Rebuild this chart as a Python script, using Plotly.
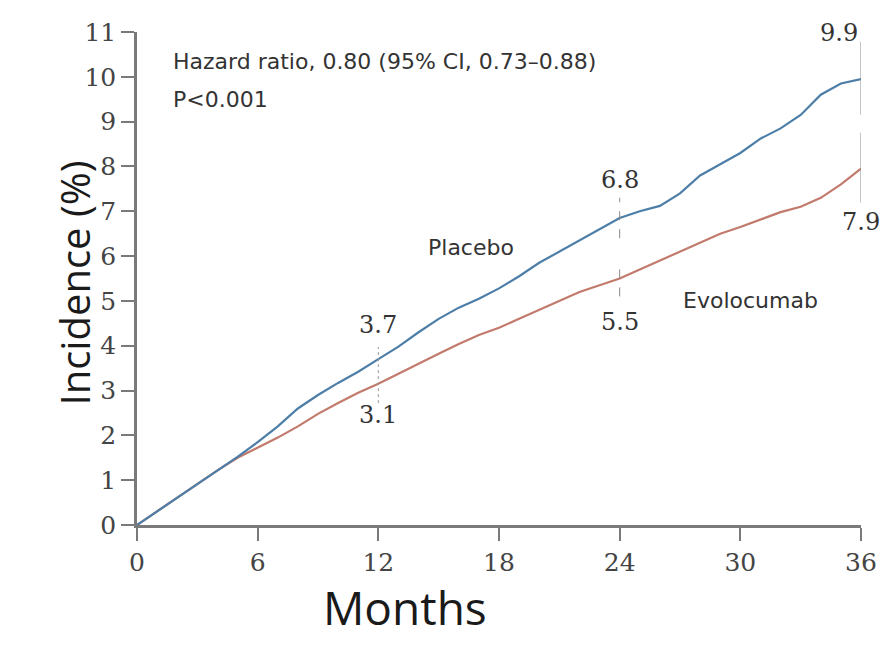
import plotly.graph_objects as go

months = list(range(0, 37))
placebo = [0, 0.3, 0.6, 0.92, 1.22, 1.52, 1.85, 2.2, 2.6, 2.9, 3.17, 3.42, 3.7,
           3.98, 4.3, 4.6, 4.85, 5.05, 5.28, 5.55, 5.85, 6.1, 6.35, 6.6, 6.85,
           7.0, 7.12, 7.4, 7.8, 8.05, 8.3, 8.62, 8.85, 9.15, 9.6, 9.85, 9.95]
evolocumab = [0, 0.3, 0.6, 0.92, 1.22, 1.5, 1.72, 1.95, 2.2, 2.48, 2.72, 2.95, 3.15,
              3.38, 3.6, 3.82, 4.04, 4.24, 4.4, 4.6, 4.8, 5.0, 5.2, 5.35, 5.5,
              5.7, 5.9, 6.1, 6.3, 6.5, 6.65, 6.82, 6.98, 7.1, 7.3, 7.6, 7.95]
x_ticks = [0, 6, 12, 18, 24, 30, 36]
y_ticks = list(range(0, 12))
milestones = [12, 24, 36]
placebo_labels = ["3.7", "6.8", "9.9"]
evolocumab_labels = ["3.1", "5.5", "7.9"]

BLUE = "#4d7ea8"
RED = "#c27a6c"
AXIS = "#7a7a7a"
TEXT = "#333333"

fig = go.Figure()
fig.add_trace(go.Scatter(x=months, y=evolocumab, mode="lines", name="Evolocumab",
                         line=dict(color=RED, width=2.2)))
fig.add_trace(go.Scatter(x=months, y=placebo, mode="lines", name="Placebo",
                         line=dict(color=BLUE, width=2.2)))

shapes = []
shapes.append(dict(type="line", xref="x", yref="y", x0=12, x1=12, y0=2.72, y1=3.97,
                   line=dict(color="#9a9a9a", width=1, dash="dot")))
shapes.append(dict(type="line", xref="x", yref="y", x0=24, x1=24, y0=6.4, y1=7.3,
                   line=dict(color="#8a8a8a", width=1, dash="dash")))
shapes.append(dict(type="line", xref="x", yref="y", x0=24, x1=24, y0=5.1, y1=5.9,
                   line=dict(color="#8a8a8a", width=1, dash="dash")))
shapes.append(dict(type="line", xref="x", yref="y", x0=36, x1=36, y0=9.15, y1=10.78,
                   line=dict(color="#8a8a8a", width=1)))
shapes.append(dict(type="line", xref="x", yref="y", x0=36, x1=36, y0=7.19, y1=8.75,
                   line=dict(color="#8a8a8a", width=1)))
shapes.append(dict(type="line", xref="x", yref="y", x0=-0.7, x1=0, y0=0, y1=0,
                   line=dict(color=AXIS, width=2.5)))
fig.update_layout(shapes=shapes)

ann_font = dict(family="DejaVu Sans", size=22, color=TEXT)
num_font = dict(family="DejaVu Serif", size=24, color=TEXT)
annotations = []
placebo_label_y = [4.46, 7.7, None]
evo_label_y = [2.46, 4.53, 6.76]
for m, lab, yy in zip(milestones, placebo_labels, placebo_label_y):
    if yy is None:
        annotations.append(dict(x=0.9986, y=1.03, xref="paper", yref="paper", text=lab,
                                showarrow=False, font=num_font))
    else:
        annotations.append(dict(x=m, y=yy, xref="x", yref="y", text=lab,
                                showarrow=False, font=num_font))
for m, lab, yy in zip(milestones, evolocumab_labels, evo_label_y):
    annotations.append(dict(x=m, y=yy, xref="x", yref="y", text=lab, showarrow=False,
                            font=num_font))
annotations.append(dict(x=16.6, y=6.2, xref="x", yref="y", text="Placebo",
                        showarrow=False, font=ann_font))
annotations.append(dict(x=30.5, y=5.02, xref="x", yref="y", text="Evolocumab",
                        showarrow=False, font=ann_font))
annotations.append(dict(x=1.7, y=10.35, xref="x", yref="y", xanchor="left",
                        text="Hazard ratio, 0.80 (95% CI, 0.73\u20130.88)",
                        showarrow=False, font=ann_font))
annotations.append(dict(x=1.7, y=9.5, xref="x", yref="y", xanchor="left",
                        text="P<0.001", showarrow=False, font=ann_font))
annotations.append(dict(x=0.37, y=-0.233, xref="paper", yref="paper", text="Months",
                        showarrow=False,
                        font=dict(family="Open Sans", size=46, color="#1a1a1a")))
annotations.append(dict(x=-0.127, y=0.491, xref="paper", yref="paper",
                        text="Incidence (%)", textangle=-90, showarrow=False,
                        font=dict(family="Open Sans", size=40, color="#1a1a1a")))
fig.update_layout(annotations=annotations)

tick_font = dict(family="DejaVu Serif", size=25, color="#444444")
fig.update_xaxes(range=[0, 36], tickvals=x_ticks, ticktext=[str(v) for v in x_ticks],
                 showline=True, linecolor=AXIS, linewidth=2.5, ticks="outside",
                 ticklen=13, tickwidth=2, tickcolor=AXIS, showgrid=False,
                 zeroline=False, tickfont=tick_font)
fig.update_yaxes(range=[0, 11], tickvals=y_ticks, ticktext=[str(v) for v in y_ticks],
                 showline=True, linecolor=AXIS, linewidth=2.5, ticks="outside",
                 ticklen=13, tickwidth=2, tickcolor=AXIS, showgrid=False,
                 zeroline=False, tickfont=tick_font)

fig.update_layout(width=895, height=665, plot_bgcolor="white", paper_bgcolor="white",
                  showlegend=False, margin=dict(l=137, r=34, t=32, b=140))

fig.write_html("out.html")
